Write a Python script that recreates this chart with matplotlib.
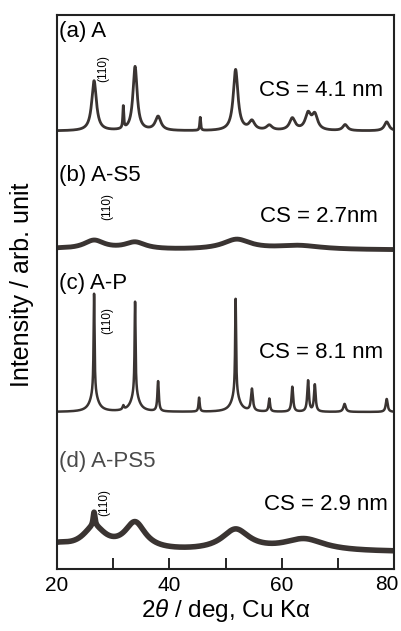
import numpy as np
import matplotlib
matplotlib.use("Agg")
import matplotlib.pyplot as plt
from matplotlib.ticker import MultipleLocator, FuncFormatter

plt.rcParams['font.family'] = ['Liberation Sans', 'DejaVu Sans']
plt.rcParams['mathtext.fontset'] = 'custom'
plt.rcParams['mathtext.it'] = 'Liberation Sans:italic'
plt.rcParams['mathtext.rm'] = 'Liberation Sans'

# peak lists (2theta in deg, height in arb. unit, FWHM in deg)
a_pos = [26.6, 31.8, 33.9, 38.0, 45.5, 51.8, 54.7, 57.8, 61.9, 64.7, 65.9, 71.3, 78.7]
a_height = [50, 22, 64, 14, 13, 61, 9, 5, 12, 16, 15, 6, 9]
a_width = [1.0, 0.2, 0.9, 1.2, 0.2, 1.0, 1.2, 1.2, 1.2, 1.2, 1.2, 1.0, 1.0]
a_offset = 438

b_pos = [20.0, 26.6, 33.9, 52.0, 63.0]
b_height = [1, 9, 7, 10, 4]
b_width = [6.0, 4.5, 4.5, 6.0, 10.0]
b_offset = 319

c_pos = [26.6, 26.6, 31.8, 33.9, 33.9, 38.0, 45.3, 51.8, 51.8, 54.7, 57.8, 61.9, 64.7, 65.9, 71.2, 78.7]
c_height = [100, 18, 4, 92, 18, 30, 14, 95, 18, 22, 13, 25, 31, 27, 8, 13]
c_width = [0.2, 1.6, 0.3, 0.2, 1.6, 0.3, 0.25, 0.2, 1.6, 0.4, 0.3, 0.35, 0.35, 0.35, 0.5, 0.4]
c_offset = 157

d_pos = [20.0, 26.6, 26.6, 33.9, 51.8, 64.0]
d_height = [6, 22, 14, 27, 21, 12]
d_width = [6.0, 5.0, 0.4, 4.5, 6.0, 9.0]
d_offset = 17

samples = ["(a) A", "(b) A-S5", "(c) A-P", "(d) A-PS5"]
cs_text = ["CS = 4.1 nm", "CS = 2.7nm", "CS = 8.1 nm", "CS = 2.9 nm"]


def pattern(x, pos, height, width, offset):
    y = np.zeros_like(x)
    for c, h, w in zip(pos, height, width):
        y += h / (1 + ((x - c) / (w / 2)) ** 2)
    return y + offset


def main():
    tt = np.linspace(20, 80, 3001)
    fig = plt.figure(figsize=(4.01, 6.31), dpi=100)
    ax = fig.add_axes([57 / 401, 1 - 569 / 631, 337 / 401, 554 / 631])

    col = '#3a3432'
    ax.plot(tt, pattern(tt, a_pos, a_height, a_width, a_offset), color=col, lw=2.0)
    ax.plot(tt, pattern(tt, b_pos, b_height, b_width, b_offset), color=col, lw=3.5)
    ax.plot(tt, pattern(tt, c_pos, c_height, c_width, c_offset), color=col, lw=1.8)
    ax.plot(tt, pattern(tt, d_pos, d_height, d_width, d_offset), color=col, lw=4.0)

    ax.set_xlim(20, 80)
    ax.set_ylim(0, 554)
    ax.xaxis.set_major_locator(MultipleLocator(20))
    ax.xaxis.set_minor_locator(MultipleLocator(10))
    # the "80" label is drawn separately, nudged left so it stays inside the figure
    ax.xaxis.set_major_formatter(FuncFormatter(lambda v, p: "" if v >= 80 else f"{v:.0f}"))
    ax.tick_params(axis='x', which='both', direction='in', length=8, width=1.2,
                   labelsize=15, pad=5)
    ax.tick_params(axis='y', left=False, labelleft=False)
    for s in ax.spines.values():
        s.set_linewidth(1.5)
        s.set_color('#222222')
    ax.text(1.0 + 4 / 337, -6 / 554, "80", transform=ax.transAxes, fontsize=15,
            ha='right', va='top')

    # panel labels, crystallite sizes and (110) marks
    label_y = [538, 394, 286, 108]
    label_col = ['black', 'black', 'black', '#4a4a4a']
    cs_y = [478, 353, 217, 64]
    cs_x = [78.0, 77.1, 78.0, 78.9]
    hkl_x = [28.2, 28.9, 28.9, 28.5]
    hkl_y = [501, 362, 249, 67]
    for i in range(4):
        ax.text(20.4, label_y[i], samples[i], fontsize=16, color=label_col[i],
                ha='left', va='center')
        ax.text(cs_x[i], cs_y[i], cs_text[i], fontsize=16, ha='right', va='center')
        ax.text(hkl_x[i], hkl_y[i], "(110)", fontsize=8.5, rotation=90,
                ha='center', va='center')

    fig.text(22 / 401, 1 - 285 / 631, "Intensity / arb. unit", rotation=90,
             fontsize=18, ha='center', va='center')
    fig.text(226 / 401, 1 - 610 / 631, r"2$\it{\theta}$ / deg, Cu Kα",
             fontsize=17.5, ha='center', va='center')

    fig.savefig("out.png", dpi=100)


if __name__ == "__main__":
    main()
